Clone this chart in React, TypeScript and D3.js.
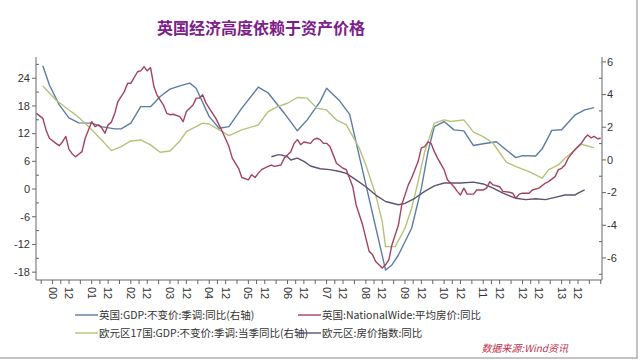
import React from "react";
import * as d3 from "d3";

const TITLE = "英国经济高度依赖于资产价格";

// UK GDP constant price SA yoy (right axis)
const ukGdpDates = ["2000-04","2000-06","2000-09","2000-12","2001-03","2001-07","2001-10","2002-02","2002-04","2002-07","2002-10","2003-01","2003-04","2003-07","2003-10","2004-01","2004-03","2004-07","2004-10","2005-01","2005-05","2005-10","2006-01","2006-06","2006-10","2007-01","2007-05","2007-07","2007-11","2008-02","2009-01","2009-03","2009-05","2009-09","2009-12","2010-02","2010-04","2010-07","2010-10","2011-01","2011-04","2011-07","2011-11","2012-02","2012-05","2012-07","2012-11","2013-01","2013-04","2013-07","2013-11","2014-02","2014-05"];
const ukGdpValues = [5.76,4.59,3.37,2.57,2.27,2.25,2.04,1.9,1.9,2.25,3.26,3.26,3.88,4.33,4.53,4.7,4.39,2.65,1.94,2.04,3.17,4.45,4.11,2.86,1.78,2.45,3.57,4.39,3.6,2.79,-6.74,-6.43,-5.82,-4.18,-1.73,0.51,2.04,2.35,1.84,1.78,0.88,0.99,1.11,0.61,0.14,0.26,0.24,0.68,1.81,1.85,2.74,3.06,3.2];

// UK NationalWide average house price yoy (left axis)
const ukHouseDates = ["2000-02","2000-04","2000-05","2000-06","2000-08","2000-09","2000-10","2000-11","2000-12","2001-01","2001-02","2001-04","2001-05","2001-07","2001-08","2001-09","2001-10","2001-11","2001-12","2002-01","2002-02","2002-03","2002-05","2002-06","2002-07","2002-09","2002-10","2002-11","2002-12","2003-01","2003-02","2003-03","2003-05","2003-06","2003-07","2003-08","2003-10","2003-11","2003-12","2004-02","2004-03","2004-04","2004-05","2004-06","2004-08","2004-09","2004-10","2004-11","2005-01","2005-02","2005-04","2005-05","2005-07","2005-08","2005-09","2005-10","2005-11","2006-01","2006-02","2006-03","2006-05","2006-06","2006-08","2006-09","2006-10","2006-11","2006-12","2007-02","2007-03","2007-04","2007-05","2007-06","2007-07","2007-08","2007-09","2007-10","2007-12","2008-01","2008-03","2008-04","2008-06","2008-08","2008-09","2008-10","2008-12","2009-01","2009-02","2009-03","2009-05","2009-06","2009-08","2009-09","2009-11","2009-12","2010-01","2010-02","2010-03","2010-04","2010-05","2010-07","2010-08","2010-10","2010-11","2010-12","2011-01","2011-02","2011-04","2011-05","2011-07","2011-08","2011-09","2011-10","2011-12","2012-01","2012-03","2012-04","2012-05","2012-06","2012-07","2012-09","2012-10","2012-12","2013-02","2013-03","2013-05","2013-06","2013-07","2013-08","2013-09","2013-11","2014-01","2014-02","2014-03","2014-04","2014-05","2014-06","2014-07"];
const ukHouseValues = [16.4,15.3,12.8,11.0,9.9,9.4,10.2,11.4,8.6,7.6,7.0,8.1,11.0,14.6,13.5,13.9,13.3,12.1,13.9,14.5,16.4,18.9,21.1,22.9,22.9,25.4,25.6,26.5,25.6,26.3,22.2,20.4,18.2,16.4,16.1,16.2,15.7,14.6,16.8,18.2,19.7,19.7,20.4,18.6,16.4,15.3,13.9,12.4,9.2,6.7,4.5,2.5,2.0,3.1,2.5,3.4,4.2,4.9,5.2,4.9,5.2,6.7,8.1,9.9,10.7,9.6,10.2,9.9,10.7,11.0,10.7,9.9,9.9,9.2,7.4,5.6,4.5,4.2,0.5,-3.4,-7.8,-13.5,-14.2,-15.7,-17.1,-16.4,-15.3,-12.1,-7.8,-3.4,0.9,2.4,6.0,8.9,9.2,10.2,9.9,8.1,6.7,4.2,2.0,0.5,-0.5,-1.3,0.2,-1.1,-1.1,-0.2,-0.2,0.2,1.6,0.9,0.5,-0.5,-0.7,-0.9,-2.0,-1.1,-0.9,-0.9,-0.2,0.2,1.3,1.6,2.7,4.2,4.5,5.2,6.7,8.5,9.9,11.0,11.7,11.1,11.4,10.9,11.0];

// Euro area 17 GDP constant price SA yoy (right axis)
const ezGdpDates = ["2000-04","2000-08","2000-12","2001-02","2001-05","2001-07","2001-10","2002-01","2002-04","2002-07","2002-10","2003-01","2003-04","2003-07","2003-10","2003-12","2004-05","2004-07","2004-10","2005-01","2005-05","2005-10","2006-01","2006-04","2006-07","2006-10","2007-01","2007-04","2007-07","2007-10","2008-01","2008-05","2008-07","2008-10","2008-12","2009-01","2009-04","2009-07","2009-09","2009-11","2010-01","2010-04","2010-07","2010-09","2011-01","2011-04","2011-07","2011-10","2012-02","2012-05","2012-09","2013-01","2013-03","2013-06","2013-08","2013-11","2014-01","2014-05"];
const ezGdpValues = [4.53,3.67,3.06,2.76,2.25,1.84,1.22,0.57,0.82,1.16,1.22,0.92,0.47,0.55,1.16,1.73,2.25,2.2,1.84,1.49,1.84,2.14,2.96,3.26,3.47,3.82,3.78,3.17,3.06,2.45,2.14,0.72,-0.31,-2.14,-3.78,-5.31,-5.31,-4.18,-2.96,-1.33,0.51,2.25,2.45,2.35,2.45,1.7,1.43,1.02,-0.14,-0.41,-0.72,-1.12,-0.61,-0.31,0.1,0.61,0.96,0.74];

// Euro area house price index yoy (left axis)
const ezHouseDates = ["2006-02","2006-04","2006-05","2006-07","2006-08","2006-10","2006-12","2007-02","2007-05","2007-08","2007-11","2008-01","2008-04","2008-07","2008-10","2009-01","2009-05","2009-07","2009-10","2010-01","2010-04","2010-07","2010-12","2011-04","2011-07","2011-10","2012-01","2012-05","2012-08","2012-11","2013-02","2013-05","2013-08","2013-11","2013-12","2014-02"];
const ezHouseValues = [7.0,7.4,7.4,7.0,6.3,6.7,6.0,5.0,4.4,4.2,3.8,3.4,2.0,0.5,-1.3,-2.7,-3.4,-3.1,-2.0,-0.5,0.7,1.3,1.3,1.5,1.1,0.2,-0.9,-2.0,-2.3,-2.1,-2.3,-1.8,-1.3,-1.3,-0.9,-0.2];

const leftTicks = [-18, -12, -6, 0, 6, 12, 18, 24];
const rightTicks = [-6, -4, -2, 0, 2, 4, 6];
const xLabelYears = [2000,2001,2002,2003,2004,2005,2006,2007,2008,2009,2010,2011,2012,2013];

const legendLabels = [
  "英国:GDP:不变价:季调:同比(右轴)",
  "英国:NationalWide:平均房价:同比",
  "欧元区17国:GDP:不变价:季调:当季同比(右轴)",
  "欧元区:房价指数:同比",
];
const colors = ["#5b7ca3", "#a3425e", "#b3c379", "#5e5173"];
const SOURCE = "数据来源:Wind资讯";

const parse = (s: string) => {
  const [y, m] = s.split("-").map(Number);
  return new Date(y, m - 1, 1);
};

export default function App() {
  const L = 36, R = 602, T = 57, B = 280;
  const anchor = d3.scaleTime().domain([new Date(2000, 11, 1), new Date(2013, 11, 1)]).range([69, 578]);
  const x = d3.scaleTime().domain([anchor.invert(L), anchor.invert(R)]).range([L, R]);
  const yL = d3.scaleLinear().domain([-19.7, 28.6]).range([B, T]);
  const yR = d3.scaleLinear().domain([-7.35, 6.3]).range([B, T]);

  const mk = (dates: string[], vals: number[], y: d3.ScaleLinear<number, number>) =>
    d3.line<number>().x((_, i) => x(parse(dates[i]))).y((v) => y(v))(vals) || "";

  const series = [
    { d: mk(ukGdpDates, ukGdpValues, yR), c: colors[0] },
    { d: mk(ezGdpDates, ezGdpValues, yR), c: colors[2] },
    { d: mk(ezHouseDates, ezHouseValues, yL), c: colors[3] },
    { d: mk(ukHouseDates, ukHouseValues, yL), c: colors[1] },
  ];

  // x ticks: label ticks at July (year) and December ("12"), minor ticks in between
  const labelTicks: { date: Date; text: string }[] = [];
  xLabelYears.forEach((yr) => {
    labelTicks.push({ date: new Date(yr, 6, 1), text: String(yr % 100).padStart(2, "0") });
    labelTicks.push({ date: new Date(yr, 11, 1), text: "12" });
  });
  const allLabelDates = [new Date(1999, 11, 1), ...labelTicks.map((t) => t.date), new Date(2014, 6, 1)];
  const minorTicks: number[] = [];
  for (let i = 0; i < allLabelDates.length - 1; i++) {
    const a = x(allLabelDates[i]), b = x(allLabelDates[i + 1]);
    const mid = (a + b) / 2;
    if (mid >= L && mid <= R) minorTicks.push(mid);
  }
  const lastX = x(new Date(2014, 6, 1));
  if (lastX <= R) minorTicks.push(lastX);

  const leftMinor = d3.range(-15, 28, 6).map((v) => v);
  const rightMinor = [-7, -5, -3, -1, 1, 3, 5];

  const axisColor = "#666";
  const font = "'Liberation Sans', Arial, sans-serif";
  const cjk = "'Noto Sans CJK SC', sans-serif";

  return (
    <svg width={640} height={360} style={{ position: "absolute", left: 0, top: 0, background: "#fff" }}>
      <rect x={0} y={0} width={640} height={360} fill="#fff" />
      <text x={261} y={34} textAnchor="middle" fontFamily={cjk} fontWeight="bold" fontSize={16} fill="#7d2089">{TITLE}</text>

      {series.map((s, i) => (
        <path key={i} d={s.d} fill="none" stroke={s.c} strokeWidth={1.4} strokeLinejoin="round" />
      ))}

      {/* left axis */}
      <line x1={L} x2={L} y1={T} y2={B} stroke={axisColor} />
      {leftTicks.map((v) => (
        <g key={v}>
          <line x1={L - 4} x2={L} y1={yL(v)} y2={yL(v)} stroke={axisColor} />
          <text x={L - 6} y={yL(v)} dy="0.35em" textAnchor="end" fontFamily={font} fontSize={11} fill="#333">{v}</text>
        </g>
      ))}
      {leftMinor.map((v) => (
        <line key={v} x1={L} x2={L + 3} y1={yL(v)} y2={yL(v)} stroke={axisColor} />
      ))}

      {/* right axis */}
      <line x1={R} x2={R} y1={T} y2={B} stroke={axisColor} />
      {rightTicks.map((v) => (
        <g key={v}>
          <line x1={R} x2={R + 4} y1={yR(v)} y2={yR(v)} stroke={axisColor} />
          <text x={R + 5} y={yR(v)} dy="0.35em" textAnchor="start" fontFamily={font} fontSize={11} fill="#333">{v}</text>
        </g>
      ))}
      {rightMinor.map((v) => (
        <line key={v} x1={R - 3} x2={R} y1={yR(v)} y2={yR(v)} stroke={axisColor} />
      ))}

      {/* bottom axis */}
      <line x1={L} x2={R} y1={B} y2={B} stroke={axisColor} />
      {labelTicks.map((t, i) => (
        <g key={i}>
          <line x1={x(t.date)} x2={x(t.date)} y1={B} y2={B + 4} stroke={axisColor} />
          <text transform={`translate(${x(t.date)},${B + 7}) rotate(90)`} dy="0.35em" textAnchor="start" fontFamily={font} fontSize={11} fill="#333">{t.text}</text>
        </g>
      ))}
      {minorTicks.map((mx, i) => (
        <line key={i} x1={mx} x2={mx} y1={B} y2={B + 4} stroke={axisColor} />
      ))}

      {/* legend */}
      {legendLabels.map((lab, i) => {
        const col = i % 2 === 0 ? 75 : 298;
        const row = i < 2 ? 315 : 333;
        const c = colors[i];
        return (
          <g key={i}>
            <line x1={col} x2={col + 23} y1={row} y2={row} stroke={c} strokeWidth={1.4} />
            <text x={col + 24} y={row} dy="0.35em" fontFamily={cjk} fontSize={10.5} fill="#333">{lab}</text>
          </g>
        );
      })}

      <text x={568} y={352} textAnchor="end" fontFamily={cjk} fontStyle="italic" fontSize={10} fill="#c0304a">{SOURCE}</text>

      <line x1={637} x2={637} y1={0} y2={359} stroke="#888" />
      <line x1={0} x2={637} y1={358} y2={358} stroke="#888" />
    </svg>
  );
}
